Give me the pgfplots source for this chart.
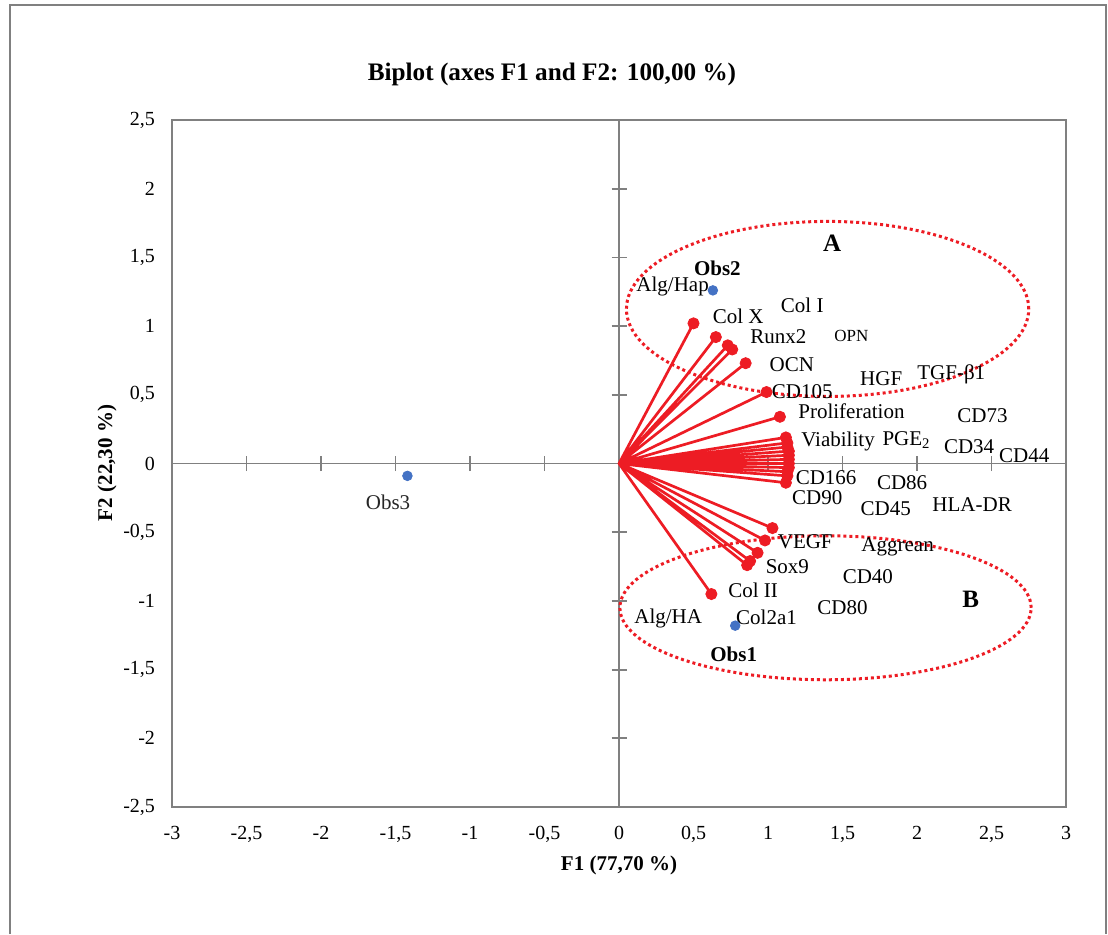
\documentclass[border=0pt]{standalone}
\usepackage{pgfplots}
\pgfplotsset{compat=1.18}
\usepackage{fontspec}
\setmainfont{Liberation Serif}
\definecolor{vred}{RGB}{237,28,36}
\definecolor{oblue}{RGB}{68,114,196}
\definecolor{axgray}{RGB}{128,128,128}
\begin{document}
\begin{tikzpicture}
\useasboundingbox (0,0) rectangle (554pt,467pt);
\draw[axgray, line width=1.2pt] (5pt,0) -- (5pt,464.5pt) -- (553pt,464.5pt) -- (553pt,0);
\node[font=\fontsize{12.6}{15}\selectfont\bfseries] at (276pt,430pt) {Biplot (axes F1 and F2: 100,00 \%)};
\node[font=\fontsize{10.5}{12}\selectfont\bfseries] at (309.5pt,34.5pt) {F1 (77,70 \%)};
\node[font=\fontsize{10.5}{12}\selectfont\bfseries, rotate=90] at (53.5pt,235.5pt) {F2 (22,30 \%)};
% overlay axis: zero lines with ticks
\begin{axis}[
  at={(86pt,63.5pt)}, anchor=south west,
  width=447pt, height=343.5pt, scale only axis,
  xmin=-3, xmax=3, ymin=-2.5, ymax=2.5,
  axis lines=middle, axis line style={-, axgray, line width=0.9pt},
  xtick={-2.5,-2,-1.5,-1,-0.5,0.5,1,1.5,2,2.5},
  ytick={-2,-1.5,-1,-0.5,0.5,1,1.5,2},
  xticklabels={}, yticklabels={},
  tick style={axgray, line width=0.9pt},
  major tick length=7.5pt, tick align=center,
]
\end{axis}
\begin{axis}[
  at={(86pt,63.5pt)}, anchor=south west,
  width=447pt, height=343.5pt, scale only axis,
  xmin=-3, xmax=3, ymin=-2.5, ymax=2.5,
  axis line style={axgray, line width=0.9pt},
  xtick={-3,-2.5,...,3}, ytick={-2.5,-2,...,2.5},
  major tick length=0pt,
  /pgf/number format/assume math mode=true,
  /pgf/number format/use comma,
  ticklabel style={font=\fontsize{10}{12}\selectfont},
  yticklabel style={xshift=-5pt},
  xticklabel style={yshift=-6pt},
  clip=false,
]
% vectors (lines from origin)
\addplot[vred, line width=1.35pt, line join=round, no marks] coordinates {
(0,0) (0.50,1.02) (0,0) (0.65,0.92) (0,0) (0.73,0.86) (0,0) (0.76,0.83)
(0,0) (0.85,0.73) (0,0) (0.99,0.52) (0,0) (1.08,0.34) (0,0) (1.12,0.19)
(0,0) (1.13,0.15) (0,0) (1.13,0.12) (0,0) (1.14,0.09) (0,0) (1.14,0.06)
(0,0) (1.14,0.03) (0,0) (1.14,0.00) (0,0) (1.14,-0.03) (0,0) (1.13,-0.06)
(0,0) (1.13,-0.09) (0,0) (1.12,-0.14) (0,0) (1.03,-0.47) (0,0) (0.98,-0.56)
(0,0) (0.93,-0.65) (0,0) (0.88,-0.71) (0,0) (0.86,-0.74) (0,0) (0.62,-0.95)
};
\addplot[only marks, mark=*, mark size=2.8pt, color=vred] coordinates {
(0.50,1.02) (0.65,0.92) (0.73,0.86) (0.76,0.83) (0.85,0.73) (0.99,0.52)
(1.08,0.34) (1.12,0.19) (1.13,0.15) (1.13,0.12) (1.14,0.09) (1.14,0.06)
(1.14,0.03) (1.14,0.00) (1.14,-0.03) (1.13,-0.06) (1.13,-0.09) (1.12,-0.14)
(1.03,-0.47) (0.98,-0.56) (0.93,-0.65) (0.88,-0.71) (0.86,-0.74) (0.62,-0.95)
};
% observations
\addplot[only marks, mark=*, mark size=2.4pt, color=oblue] coordinates {
(0.63,1.26) (0.78,-1.18) (-1.42,-0.09)
};
% ellipses
\draw[vred, line width=1.5pt, dash pattern=on 1.5pt off 1.5pt] (axis cs:1.40,1.125) ellipse [x radius=1.35, y radius=0.637];
\draw[vred, line width=1.5pt, dash pattern=on 1.5pt off 1.5pt] (axis cs:1.386,-1.05) ellipse [x radius=1.38, y radius=0.524];
% labels
\begin{scope}[every node/.style={font=\fontsize{10.5}{12}\selectfont, inner sep=0pt}]
\node[font=\fontsize{12.5}{14}\selectfont\bfseries] at (axis cs:1.43,1.60) {A};
\node[font=\fontsize{10.5}{12}\selectfont\bfseries] at (axis cs:0.66,1.42) {Obs2};
\node at (axis cs:0.36,1.29) {Alg/Hap};
\node at (axis cs:0.80,1.07) {Col X};
\node at (axis cs:1.23,1.15) {Col I};
\node at (axis cs:1.07,0.92) {Runx2};
\node[font=\fontsize{8.5}{10}\selectfont] at (axis cs:1.56,0.93) {OPN};
\node at (axis cs:1.16,0.72) {OCN};
\node at (axis cs:1.76,0.62) {HGF};
\node at (axis cs:2.23,0.65) {TGF-β1};
\node at (axis cs:1.23,0.52) {CD105};
\node at (axis cs:1.56,0.38) {Proliferation};
\node at (axis cs:2.44,0.35) {CD73};
\node at (axis cs:1.47,0.16) {Viability};
\node at (axis cs:1.93,0.17) {PGE$_{\mathrm{2}}$};
\node at (axis cs:2.35,0.12) {CD34};
\node at (axis cs:2.72,0.06) {CD44};
\node at (axis cs:1.39,-0.10) {CD166};
\node at (axis cs:1.90,-0.14) {CD86};
\node at (axis cs:1.33,-0.25) {CD90};
\node at (axis cs:1.79,-0.33) {CD45};
\node at (axis cs:2.37,-0.30) {HLA-DR};
\node at (axis cs:1.25,-0.57) {VEGF};
\node at (axis cs:1.87,-0.61) {Aggrean};
\node at (axis cs:1.13,-0.75) {Sox9};
\node at (axis cs:1.67,-0.82) {CD40};
\node at (axis cs:0.90,-0.92) {Col II};
\node[font=\fontsize{12.5}{14}\selectfont\bfseries] at (axis cs:2.36,-0.99) {B};
\node at (axis cs:1.50,-1.05) {CD80};
\node at (axis cs:0.33,-1.13) {Alg/HA};
\node at (axis cs:0.99,-1.12) {Col2a1};
\node[font=\fontsize{10.5}{12}\selectfont\bfseries] at (axis cs:0.77,-1.39) {Obs1};
\node[text=black!85] at (axis cs:-1.55,-0.28) {Obs3};
\end{scope}
\end{axis}
\end{tikzpicture}
\end{document}
